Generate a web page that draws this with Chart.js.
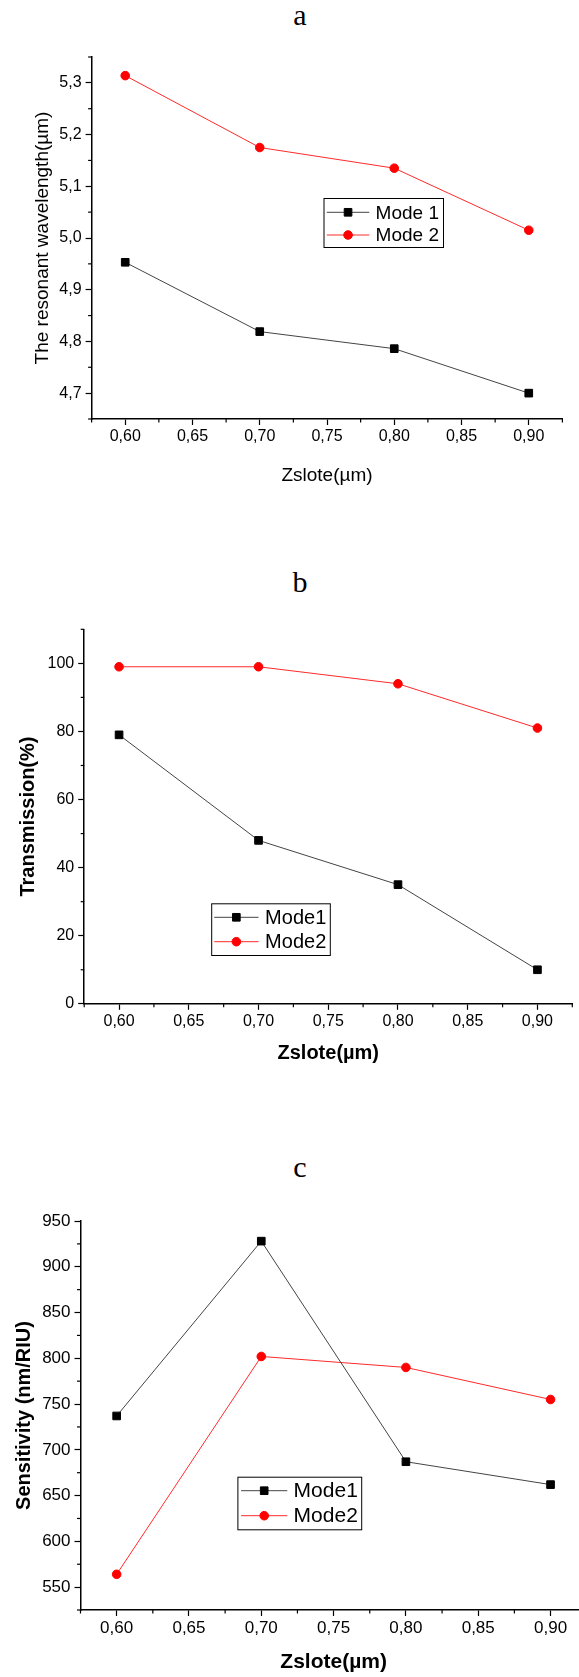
<!DOCTYPE html>
<html>
<head>
<meta charset="utf-8">
<script src="https://cdn.jsdelivr.net/npm/chart.js@4.4.1/dist/chart.umd.min.js"></script>
<style>
  html, body { margin: 0; padding: 0; background: #fff; }
  body { position: relative; width: 579px; height: 1677px; overflow: hidden; }
  canvas { position: absolute; left: 0; }
  .tag {
    position: absolute; width: 40px; margin-left: -20px; text-align: center;
    font-family: "Liberation Serif", "DejaVu Serif", serif; font-size: 30px; line-height: 1; color: #000;
  }
</style>
</head>
<body>
<div class="tag" style="left:300px; top:0px;">a</div>
<canvas id="chartA" width="579" height="500" style="top:0px;"></canvas>
<div class="tag" style="left:300px; top:567px;">b</div>
<canvas id="chartB" width="579" height="520" style="top:560px;"></canvas>
<div class="tag" style="left:300px; top:1152px;">c</div>
<canvas id="chartC" width="600" height="537" style="top:1140px;"></canvas>

<script>
// slot width (µm) on the x axis, shared by all three panels
const zslote = [0.60, 0.70, 0.80, 0.90];
const xTicks = [0.60, 0.65, 0.70, 0.75, 0.80, 0.85, 0.90];

// (a) resonant wavelength, µm
const wavelengthMode1 = [4.953, 4.819, 4.786, 4.700];
const wavelengthMode2 = [5.314, 5.175, 5.135, 5.015];
const yTicksA = [4.7, 4.8, 4.9, 5.0, 5.1, 5.2, 5.3];

// (b) transmission, %
const transMode1 = [79, 48, 35, 10];
const transMode2 = [99, 99, 94, 81];
const yTicksB = [0, 20, 40, 60, 80, 100];

// (c) sensitivity, nm/RIU
const sensMode1 = [737, 928, 687, 662];
const sensMode2 = [564, 802, 790, 755];
const yTicksC = [550, 600, 650, 700, 750, 800, 850, 900, 950];

const FONT = '"Liberation Sans", Arial, sans-serif';
const BLACK = '#000';
const GREY = '#444';
const RED = '#ff0000';

// short minor ticks halfway between the labelled ones
const minorTicks = {
  id: 'minorTicks',
  afterDraw(chart) {
    const { ctx, chartArea } = chart;
    ctx.save();
    ctx.strokeStyle = BLACK;
    ctx.lineWidth = 1.2;
    ['x', 'y'].forEach(id => {
      const s = chart.scales[id];
      const vals = s.ticks.map(t => t.value);
      const half = (vals[1] - vals[0]) / 2;
      for (let i = -1; i < vals.length; i++) {
        const v = vals[0] + half * (2 * i + 1);
        if (v < s.min - 1e-9 || v > s.max + 1e-9) continue;
        const p = s.getPixelForValue(v);
        ctx.beginPath();
        if (id === 'x') {
          ctx.moveTo(p, chartArea.bottom);
          ctx.lineTo(p, chartArea.bottom + 3.5);
        } else {
          ctx.moveTo(chartArea.left, p);
          ctx.lineTo(chartArea.left - 3.5, p);
        }
        ctx.stroke();
      }
    });
    ctx.restore();
  }
};

// framed legend, placed where the figure had it
const boxLegend = {
  id: 'boxLegend',
  afterDraw(chart, args, opts) {
    const { ctx } = chart;
    const [bx, by, bw, bh] = opts.box;
    ctx.save();
    ctx.fillStyle = '#fff';
    ctx.fillRect(bx, by, bw, bh);
    ctx.strokeStyle = BLACK;
    ctx.lineWidth = 1;
    ctx.strokeRect(bx + 0.5, by + 0.5, bw, bh);
    ctx.font = opts.font;
    ctx.textBaseline = 'middle';
    chart.data.datasets.forEach((ds, i) => {
      const y = opts.rows[i];
      const [x1, x2] = opts.line;
      const xm = (x1 + x2) / 2;
      ctx.strokeStyle = ds.borderColor;
      ctx.lineWidth = 1;
      ctx.beginPath();
      ctx.moveTo(x1, y);
      ctx.lineTo(x2, y);
      ctx.stroke();
      ctx.fillStyle = ds.pointBackgroundColor;
      ctx.strokeStyle = ds.pointBorderColor;
      ctx.beginPath();
      if (ds.pointStyle === 'rect') {
        const h = ds.pointRadius * Math.SQRT1_2;
        ctx.rect(xm - h, y - h, 2 * h, 2 * h);
      } else {
        ctx.arc(xm, y, ds.pointRadius, 0, Math.PI * 2);
      }
      ctx.fill();
      ctx.stroke();
      ctx.fillStyle = BLACK;
      ctx.fillText(ds.label, opts.textX, y + 1);
    });
    ctx.restore();
  }
};

function series(label, values, color, lineColor, style) {
  return {
    label,
    data: zslote.map((x, i) => ({ x, y: values[i] })),
    borderColor: lineColor,
    borderWidth: 1,
    pointStyle: style,
    pointRadius: style === 'rect' ? 5.4 : 4.3,
    pointBorderWidth: 1,
    pointBackgroundColor: color,
    pointBorderColor: color,
    tension: 0
  };
}

function makePanel(id, p) {
  const canvas = document.getElementById(id);
  const W = canvas.width, H = canvas.height;
  const tickFont = { family: FONT, size: p.tickSize };
  return new Chart(canvas, {
    type: 'line',
    data: {
      datasets: [
        series(p.labels[0], p.mode1, BLACK, GREY, 'rect'),
        series(p.labels[1], p.mode2, RED, '#ff2a2a', 'circle')
      ]
    },
    options: {
      responsive: false,
      animation: false,
      layout: { padding: { left: 0, top: p.area.top, right: W - p.area.right, bottom: 0 } },
      plugins: {
        legend: { display: false },
        tooltip: { enabled: false },
        boxLegend: p.legend
      },
      scales: {
        x: {
          type: 'linear',
          min: 0.575,
          max: 0.925,
          afterBuildTicks: s => { s.ticks = xTicks.map(v => ({ value: v })); },
          afterFit: s => { s.height = H - p.area.bottom; },
          ticks: {
            font: tickFont, color: BLACK, padding: 2, maxRotation: 0,
            callback: v => v.toFixed(2).replace('.', ',')
          },
          grid: { display: true, drawOnChartArea: false, drawTicks: true, tickLength: 6, tickColor: BLACK, tickWidth: 1.2 },
          border: { display: true, color: BLACK, width: 1.5 },
          title: {
            display: true, text: p.xTitle, color: BLACK,
            font: { family: FONT, size: p.xTitleSize, weight: p.bold ? 'bold' : 'normal' },
            padding: { top: 0, bottom: p.xTitlePad }
          }
        },
        y: {
          type: 'linear',
          min: p.yMin,
          max: p.yMax,
          afterBuildTicks: s => { s.ticks = p.yTicks.map(v => ({ value: v })); },
          afterFit: s => { s.width = p.area.left; },
          ticks: {
            font: tickFont, color: BLACK, padding: 4,
            callback: v => p.yDigits ? v.toFixed(p.yDigits).replace('.', ',') : String(v)
          },
          grid: { display: true, drawOnChartArea: false, drawTicks: true, tickLength: 6, tickColor: BLACK, tickWidth: 1.2 },
          border: { display: true, color: BLACK, width: 1.5 },
          title: {
            display: true, text: p.yTitle, color: BLACK,
            font: { family: FONT, size: p.yTitleSize, weight: p.bold ? 'bold' : 'normal' },
            padding: { top: p.yTitlePad, bottom: 0 }
          }
        }
      }
    },
    plugins: [minorTicks, boxLegend]
  });
}

makePanel('chartA', {
  mode1: wavelengthMode1, mode2: wavelengthMode2, labels: ['Mode 1', 'Mode 2'],
  yMin: 4.65, yMax: 5.35, yTicks: yTicksA, yDigits: 1,
  area: { left: 91.6, right: 562.4, top: 57, bottom: 419 },
  tickSize: 16, bold: false,
  xTitle: 'Zslote(µm)', xTitleSize: 19, xTitlePad: 13,
  yTitle: 'The resonant wavelength(µm)', yTitleSize: 19, yTitlePad: 31,
  legend: { box: [323.5, 198, 119.5, 49], rows: [212.3, 235], line: [326.8, 369.3], textX: 375.6, font: '19px ' + FONT }
});

makePanel('chartB', {
  mode1: transMode1, mode2: transMode2, labels: ['Mode1', 'Mode2'],
  yMin: 0, yMax: 110, yTicks: yTicksB, yDigits: 0,
  area: { left: 84.2, right: 572.3, top: 69.3, bottom: 443.8 },
  tickSize: 16, bold: true,
  xTitle: 'Zslote(µm)', xTitleSize: 20, xTitlePad: 15,
  yTitle: 'Transmission(%)', yTitleSize: 20, yTitlePad: 16,
  legend: { box: [211.2, 343.3, 118.6, 51.7], rows: [357.3, 381.7], line: [214.2, 258.5], textX: 265.1, font: '20px ' + FONT }
});

makePanel('chartC', {
  mode1: sensMode1, mode2: sensMode2, labels: ['Mode1', 'Mode2'],
  yMin: 525, yMax: 950, yTicks: yTicksC, yDigits: 0,
  area: { left: 80.5, right: 586.7, top: 81, bottom: 470 },
  tickSize: 17, bold: true,
  xTitle: 'Zslote(µm)', xTitleSize: 21, xTitlePad: 2.5,
  yTitle: 'Sensitivity (nm/RIU)', yTitleSize: 20, yTitlePad: 12,
  legend: { box: [237.4, 336.7, 123.8, 52.6], rows: [350.7, 375.7], line: [241.1, 287.3], textX: 293.6, font: '21px ' + FONT }
});
</script>
</body>
</html>
